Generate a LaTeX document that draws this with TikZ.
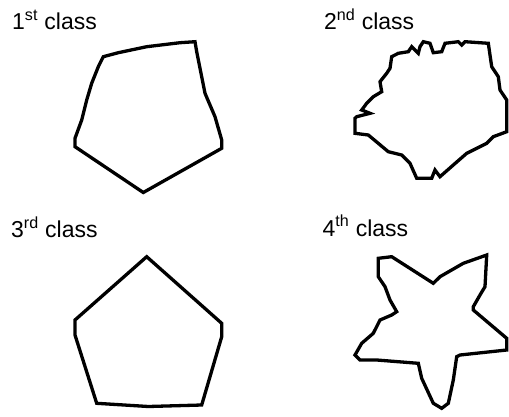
\documentclass[tikz,border=0pt]{standalone}
\usepackage{fontspec}
\setmainfont{Liberation Sans}
\usepackage{tikz}
\usetikzlibrary{positioning}
\tikzset{
  classlabel/.style={
    anchor=base west,
    inner sep=0pt,
    font=\fontsize{23}{26}\selectfont
  },
  outline/.style={
    line width=3.3pt,
    line join=miter,
    black
  }
}

\begin{document}
\begin{tikzpicture}[x=1pt,y=-1pt]
\useasboundingbox (0,0) rectangle (509,416);
% labels
\node[classlabel] (c1) at (12,29.3) {1\textsuperscript{st} class};
\node[classlabel] (c2) at (324,29.3) {2\textsuperscript{nd} class};
\node[classlabel] (c3) at (11,237.5) {3\textsuperscript{rd} class};
\node[classlabel] (c4) at (322.5,236) {4\textsuperscript{th} class};
% 1st class
\draw[outline] (103.3,56.7) -- (118.3,52.7) -- (146.7,46.7) -- (180,42.7) -- (195,41.7)
  -- (196.7,51.7) -- (205,93.3) -- (215,116.7) -- (221.7,140) -- (221.7,148.3)
  -- (143.3,192.5) -- (75,146.7) -- (75,138.3) -- (81.7,120) -- (86.7,100)
  -- (91.7,83.3) -- (98.3,66.7) -- cycle;
% 2nd class
\draw[outline] (355,118.3) -- (355,133.3) -- (368.3,135) -- (388.3,151.7) -- (401.7,155)
  -- (410,163.3) -- (416.7,178.3) -- (431.7,178.3) -- (435,170) -- (440,176.7)
  -- (453.3,165) -- (466.7,153.3) -- (486.7,143.3) -- (493.3,136.7) -- (506.7,131.7)
  -- (506.7,100) -- (500,90) -- (498.3,76.7) -- (491.7,66.7) -- (488.3,43.3)
  -- (465,41.7) -- (461.7,45) -- (458.3,41.7) -- (445,43.3) -- (441.7,51.7)
  -- (433.3,52.7) -- (430,43.3) -- (423.3,41.7) -- (420,46.7) -- (418.3,53.3)
  -- (411.7,46.7) -- (408.3,51.7) -- (398.3,53.3) -- (391.7,56.7) -- (390,68.3)
  -- (386.7,73.3) -- (380,81.7) -- (381.7,91.7) -- (373.3,96.7) -- (366.7,103.3)
  -- (361.7,110) -- (370,113.3) -- (356.7,116.7) -- cycle;
% 3rd class
\draw[outline] (146.7,256.7) -- (221.7,323.3) -- (221.7,336.7) -- (201.7,405)
  -- (148.3,406.5) -- (96.7,403.3) -- (75,335) -- (75,320) -- cycle;
% 4th class
\draw[outline] (378.3,258.3) -- (391.7,256.7) -- (433.3,283.3) -- (440,276.7)
  -- (463.3,263.3) -- (486.7,255) -- (485,286.7) -- (480,295) -- (473.3,306.7)
  -- (473.3,310) -- (506.7,338.3) -- (506.7,350) -- (460,355) -- (456.7,356.7)
  -- (453.3,380) -- (448.3,403.3) -- (441.7,408.3) -- (433.3,403.3) -- (421.7,378.3)
  -- (418.3,363.3) -- (376.7,360) -- (360,360) -- (355,355) -- (361.7,343.3)
  -- (373.3,333.3) -- (380,320) -- (391.7,315) -- (396.7,311.7) -- (390,300)
  -- (385,286.7) -- (378.3,276.7) -- cycle;
\end{tikzpicture}
\end{document}
